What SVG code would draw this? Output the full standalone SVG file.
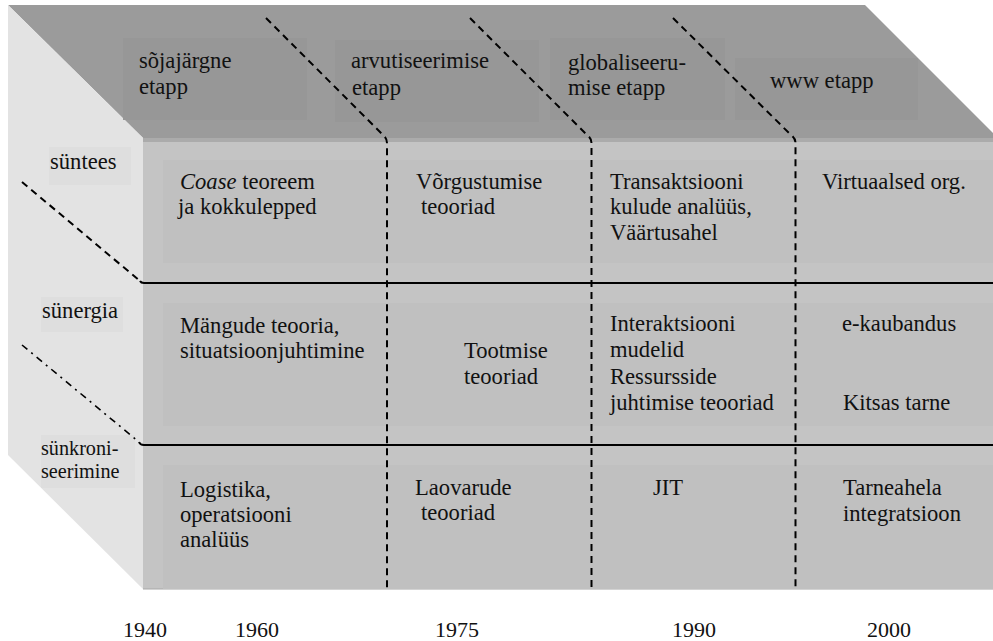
<svg xmlns="http://www.w3.org/2000/svg" width="993" height="641" viewBox="0 0 993 641" font-family="'Liberation Serif', 'Times New Roman', 'DejaVu Serif', serif">
  <style>
    text { font-family: "Liberation Serif", "Times New Roman", "DejaVu Serif", serif; font-size: 22.6px; fill: #111; }
    .small { font-size: 20.2px; }
    .year { font-size: 22px; }
    .top { fill: #9b9b9b; }
    .topbox { fill: #979797; }
    .front { fill: #c4c4c4; }
    .frontbox { fill: #c0c0c0; }
    .side { fill: #e3e3e3; }
    .sidebox { fill: #dedede; }
    .dash { fill: none; stroke: #000; stroke-width: 2; stroke-dasharray: 7 5; }
    .dashdot { fill: none; stroke: #000; stroke-width: 1.6; stroke-dasharray: 7 5 2 5; }
    .solid { fill: none; stroke: #000; stroke-width: 2; }
  </style>

  <rect width="993" height="641" fill="#fff"/>

  <!-- cube faces -->
  <g id="faces">
    <polygon class="top" points="8,5 865,5 993,133 993,138 143,138"/>
    <polygon class="side" points="8,5 143,138 143,589 8,455"/>
    <rect class="front" x="143" y="138" width="850" height="451"/>
    <rect x="143" y="138" width="850" height="4" fill="#ababab"/>
    <line x1="143" y1="589" x2="993" y2="589" stroke="#a8a8a8" stroke-width="1"/>
  </g>

  <!-- stages on the top face -->
  <g id="stage-sojajargne">
    <rect class="topbox" x="123" y="38" width="184" height="82"/>
    <text x="139" y="68">sõjajärgne</text>
    <text x="139" y="94">etapp</text>
  </g>
  <g id="stage-arvutiseerimise">
    <rect class="topbox" x="335" y="40" width="204" height="82"/>
    <text x="351" y="68">arvutiseerimise</text>
    <text x="352" y="95">etapp</text>
  </g>
  <g id="stage-globaliseerumise">
    <rect class="topbox" x="550" y="38" width="175" height="82"/>
    <text x="568" y="70">globaliseeru-</text>
    <text x="568" y="95">mise etapp</text>
  </g>
  <g id="stage-www">
    <rect class="topbox" x="735" y="58" width="183" height="62"/>
    <text x="770" y="88">www etapp</text>
  </g>

  <!-- levels on the side face -->
  <g id="level-syntees">
    <rect class="sidebox" x="49" y="147" width="82" height="38"/>
    <text x="50" y="169">süntees</text>
  </g>
  <g id="level-synergia">
    <rect class="sidebox" x="41" y="297" width="82" height="35"/>
    <text x="42" y="318">sünergia</text>
  </g>
  <g id="level-synkroniseerimine">
    <rect class="sidebox" x="41" y="435" width="94" height="53"/>
    <text class="small" x="41" y="455">sünkroni-</text>
    <text class="small" x="41" y="478">seerimine</text>
  </g>

  <!-- row bands on the front face -->
  <g id="rows">
    <rect class="frontbox" x="163" y="160" width="830" height="103"/>
    <rect class="frontbox" x="163" y="303" width="830" height="123"/>
    <rect class="frontbox" x="163" y="465" width="830" height="124"/>
  </g>

  <!-- row 1: süntees -->
  <g id="cell-coase">
    <text x="180" y="189"><tspan font-style="italic">Coase</tspan> teoreem</text>
    <text x="178" y="214">ja kokkulepped</text>
  </g>
  <g id="cell-vorgustumise">
    <text x="416" y="189">Võrgustumise</text>
    <text x="421" y="214">teooriad</text>
  </g>
  <g id="cell-transaktsiooni">
    <text x="610" y="189">Transaktsiooni</text>
    <text x="610" y="214">kulude analüüs,</text>
    <text x="610" y="240">Väärtusahel</text>
  </g>
  <g id="cell-virtuaalsed">
    <text x="822" y="189">Virtuaalsed org.</text>
  </g>

  <!-- row 2: sünergia -->
  <g id="cell-mangude">
    <text x="180" y="333">Mängude teooria,</text>
    <text x="180" y="358">situatsioonjuhtimine</text>
  </g>
  <g id="cell-tootmise">
    <text x="464" y="358">Tootmise</text>
    <text x="464" y="384">teooriad</text>
  </g>
  <g id="cell-interaktsiooni">
    <text x="610" y="331">Interaktsiooni</text>
    <text x="610" y="357">mudelid</text>
    <text x="610" y="384">Ressursside</text>
    <text x="610" y="410">juhtimise teooriad</text>
  </g>
  <g id="cell-ekaubandus">
    <text x="842" y="331">e-kaubandus</text>
    <text x="843" y="410">Kitsas tarne</text>
  </g>

  <!-- row 3: sünkroniseerimine -->
  <g id="cell-logistika">
    <text x="180" y="497">Logistika,</text>
    <text x="180" y="522">operatsiooni</text>
    <text x="180" y="547">analüüs</text>
  </g>
  <g id="cell-laovarude">
    <text x="415" y="495">Laovarude</text>
    <text x="421" y="520">teooriad</text>
  </g>
  <g id="cell-jit">
    <text x="653" y="495">JIT</text>
  </g>
  <g id="cell-tarneahela">
    <text x="843" y="495">Tarneahela</text>
    <text x="843" y="521">integratsioon</text>
  </g>

  <!-- time axis -->
  <g id="years">
    <text class="year" x="123" y="637">1940</text>
    <text class="year" x="235" y="637">1960</text>
    <text class="year" x="435" y="637">1975</text>
    <text class="year" x="672" y="637">1990</text>
    <text class="year" x="867" y="637">2000</text>
  </g>

  <!-- boundaries between stages and levels -->
  <g id="connectors">
    <path class="dash" d="M266,18 L383,135 Q387,138 387,143 L387,589"/>
    <path class="dash" d="M470,18 L587,135 Q591.5,138 591.5,143 L591.5,589"/>
    <path class="dash" d="M673,18 L791,135 Q795.5,138 795.5,143 L795.5,589"/>
    <path class="dash" d="M22,182 L140,281"/>
    <path class="solid" d="M140,281 Q141,283 144,283 L993,283"/>
    <path class="dashdot" d="M22,345 L139,442"/>
    <path class="solid" d="M139,442 Q140,445 144,445 L993,445"/>
  </g>
</svg>
